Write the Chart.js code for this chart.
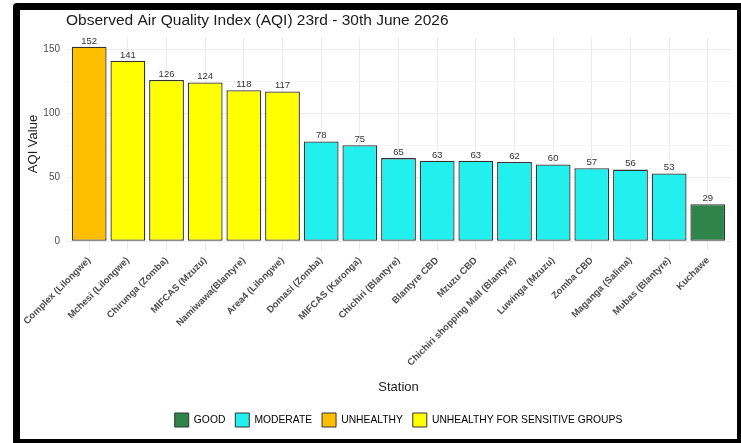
<!DOCTYPE html>
<html>
<head>
<meta charset="utf-8">
<script src="https://cdn.jsdelivr.net/npm/chart.js@4/dist/chart.umd.min.js"></script>
<style>
  html, body { margin: 0; padding: 0; background: #fff; overflow: hidden; }
  #wrap { position: relative; width: 741px; height: 443px; }
  #frame {
    position: absolute; left: 13px; top: 3px;
    width: 717px; height: 429px;
    border: 7px solid #000; border-radius: 4px;
    pointer-events: none;
  }
</style>
</head>
<body>
<div id="wrap">
  <canvas id="aqi-chart" width="741" height="443"></canvas>
  <div id="frame"></div>
</div>
<script>
const stations = [
    "Complex (Lilongwe)", "Mchesi (Lilongwe)", "Chirunga (Zomba)", "MIFCAS (Mzuzu)",
    "Namiwawa(Blantyre)", "Area4 (Lilongwe)", "Domasi (Zomba)", "MIFCAS (Karonga)",
    "Chichiri (Blantyre)", "Blantyre CBD", "Mzuzu CBD", "Chichiri shopping Mall (Blantyre)",
    "Luwinga (Mzuzu)", "Zomba CBD", "Maganga (Salima)", "Mubas (Blantyre)", "Kuchawe"
];
const aqiValues = [152, 141, 126, 124, 118, 117, 78, 75, 65, 63, 63, 62, 60, 57, 56, 53, 29];
const aqiCategory = [
    "UNHEALTHY", "UNHEALTHY FOR SENSITIVE GROUPS", "UNHEALTHY FOR SENSITIVE GROUPS",
    "UNHEALTHY FOR SENSITIVE GROUPS", "UNHEALTHY FOR SENSITIVE GROUPS", "UNHEALTHY FOR SENSITIVE GROUPS",
    "MODERATE", "MODERATE", "MODERATE", "MODERATE", "MODERATE", "MODERATE",
    "MODERATE", "MODERATE", "MODERATE", "MODERATE", "GOOD"
];
const legendNames = ["GOOD", "MODERATE", "UNHEALTHY", "UNHEALTHY FOR SENSITIVE GROUPS"];
const legendColors = ["#2e8449", "#22f0ee", "#ffbf00", "#ffff00"];
const yTickValues = [0, 25, 50, 75, 100, 125, 150];

const fontFamily = '"Liberation Sans", Arial, sans-serif';

function colorOf(cat) {
    return legendColors[legendNames.indexOf(cat)];
}

const titlePlugin = {
    id: 'plotTitle',
    afterDraw(chart) {
        const ctx = chart.ctx;
        ctx.save();
        ctx.font = '15.5px ' + fontFamily;
        ctx.fillStyle = '#1a1a1a';
        ctx.textAlign = 'left';
        ctx.textBaseline = 'middle';
        ctx.fillText("Observed Air Quality Index (AQI) 23rd - 30th June 2026", chart.chartArea.left, 21);
        ctx.restore();
    }
};

const valueLabels = {
    id: 'valueLabels',
    afterDatasetsDraw(chart) {
        const ctx = chart.ctx;
        const meta = chart.getDatasetMeta(0);
        ctx.save();
        ctx.font = '9.5px ' + fontFamily;
        ctx.fillStyle = '#333';
        ctx.textAlign = 'center';
        ctx.textBaseline = 'bottom';
        meta.data.forEach(function(bar, i) {
            ctx.fillText(aqiValues[i], bar.x, bar.y - 1);
        });
        ctx.restore();
    }
};

const chart = new Chart(document.getElementById("aqi-chart"), {
    type: 'bar',
    data: {
        datasets: [{
            data: aqiValues.map((v, i) => ({x: i, y: v})),
            backgroundColor: aqiCategory.map(colorOf),
            borderColor: '#333333',
            borderWidth: 1.3,
            borderSkipped: false,
            barPercentage: 0.9,
            categoryPercentage: 1.0
        }]
    },
    options: {
        responsive: false,
        animation: false,
        devicePixelRatio: 1,
        layout: {
            padding: { left: 22, right: 10, top: 37, bottom: 6 }
        },
        plugins: {
            tooltip: { enabled: false },
            legend: {
                position: 'bottom',
                fullSize: false,
                labels: {
                    boxWidth: 14,
                    boxHeight: 14,
                    padding: 10,
                    color: '#333',
                    font: { size: 10.3, family: fontFamily },
                    generateLabels: function() {
                        return legendNames.map((name, i) => ({
                            text: name,
                            fillStyle: legendColors[i],
                            strokeStyle: '#333333',
                            lineWidth: 1,
                            hidden: false,
                            datasetIndex: 0
                        }));
                    }
                }
            }
        },
        scales: {
            x: {
                type: 'linear',
                offset: false,
                min: -0.6,
                max: stations.length - 0.4,
                afterBuildTicks: function(scale) {
                    scale.ticks = stations.map((s, i) => ({value: i}));
                },
                afterFit: function(scale) {
                    scale.height = 152;
                    scale.paddingLeft = 0;
                    scale.paddingRight = 0;
                },
                grid: { color: '#ebebeb', drawTicks: false, offset: false },
                border: { display: false },
                ticks: {
                    autoSkip: false,
                    minRotation: 45,
                    maxRotation: 45,
                    padding: 4,
                    color: '#4d4d4d',
                    font: { size: 9.5, weight: 'bold', family: fontFamily },
                    callback: function(value) { return stations[value]; }
                },
                title: {
                    display: true,
                    text: 'Station',
                    color: '#1a1a1a',
                    font: { size: 13, family: fontFamily },
                    padding: { top: 0, bottom: 8 }
                }
            },
            y: {
                min: -7.6,
                max: 159.6,
                afterBuildTicks: function(scale) {
                    scale.ticks = yTickValues.map(v => ({value: v}));
                },
                afterFit: function(scale) {
                    scale.width = 44;
                },
                grid: {
                    drawTicks: false,
                    color: function(c) {
                        return (c.tick && c.tick.value % 50 === 0) ? '#ebebeb' : '#f5f5f5';
                    }
                },
                border: { display: false },
                ticks: {
                    padding: 6,
                    color: '#4d4d4d',
                    font: { size: 10, family: fontFamily },
                    callback: function(value) { return value % 50 === 0 ? value : ''; }
                },
                title: {
                    display: true,
                    text: 'AQI Value',
                    color: '#1a1a1a',
                    font: { size: 13, family: fontFamily },
                    padding: { top: 4, bottom: 0 }
                }
            }
        }
    },
    plugins: [titlePlugin, valueLabels]
});
</script>
</body>
</html>
